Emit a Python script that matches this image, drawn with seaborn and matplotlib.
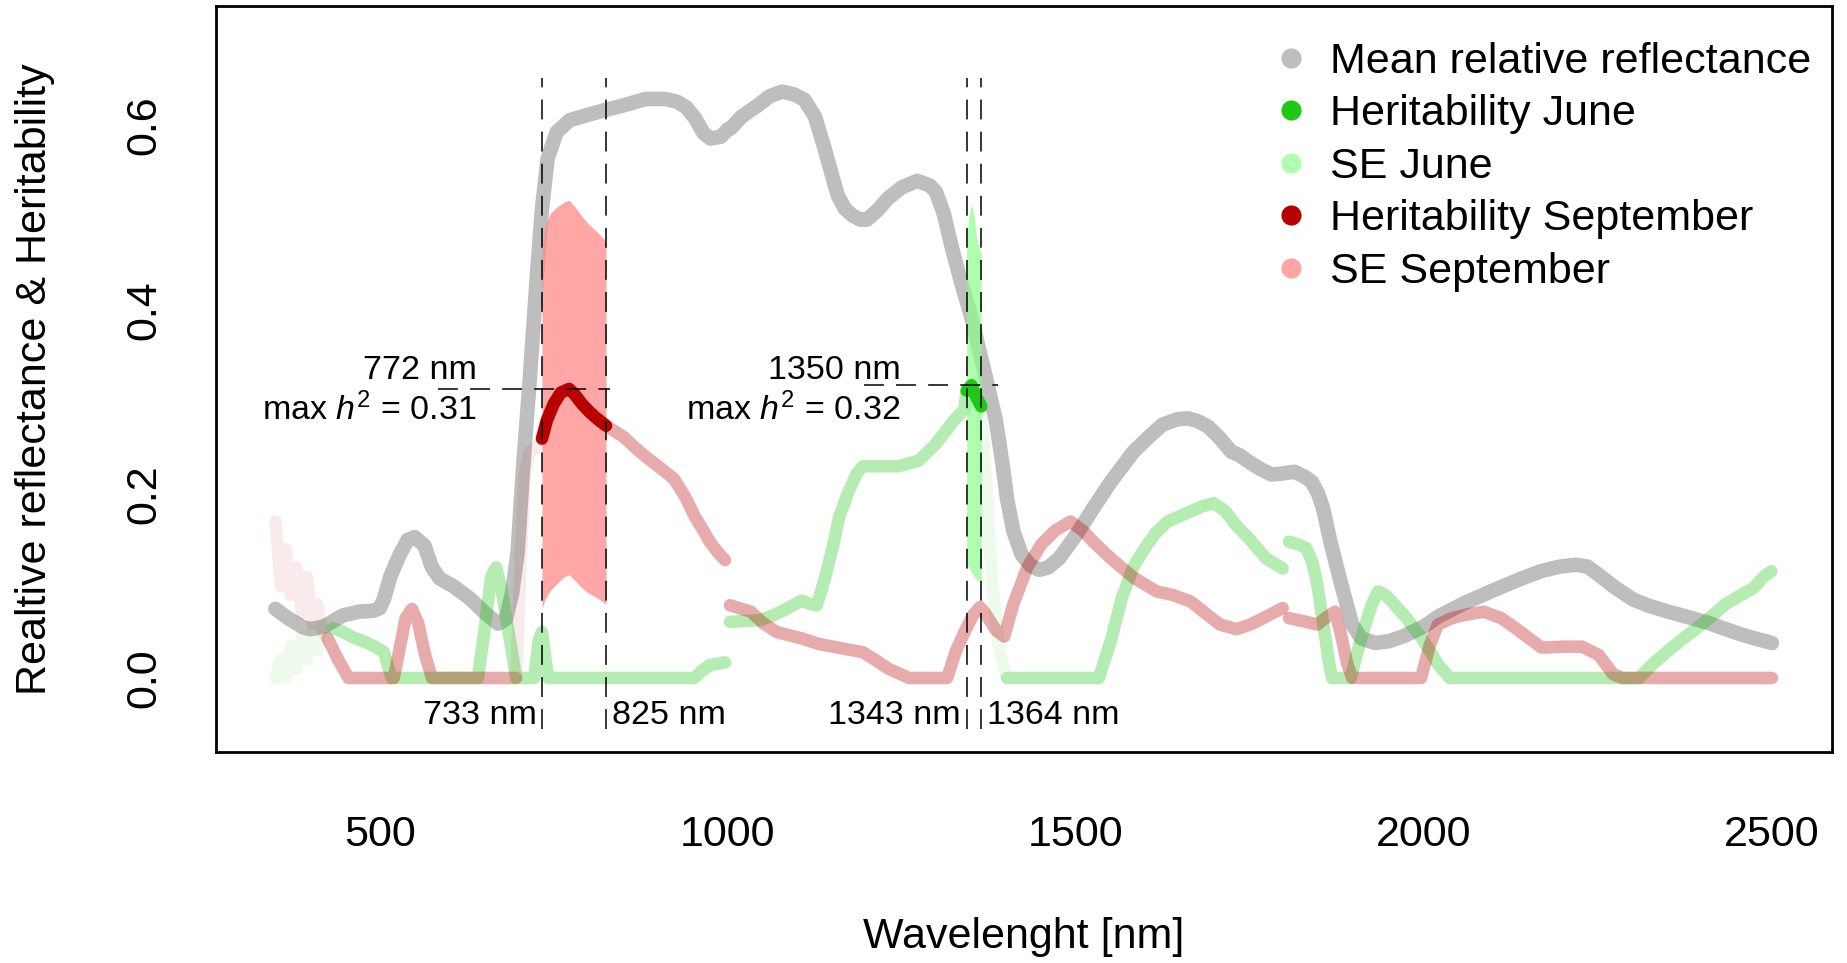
import numpy as np
import pandas as pd
import seaborn as sns
import matplotlib
matplotlib.use("Agg")
import matplotlib.pyplot as plt
from matplotlib.lines import Line2D

nan = np.nan

# ============================================
# DATA
# ============================================

# mean relative reflectance
refl_wl = [350, 370, 390, 400, 420, 447, 470, 491, 500, 506, 515, 528, 540, 550, 564,
           575, 586, 605, 630, 652, 670, 681, 690, 698, 705, 715, 725, 733, 741, 754,
           773, 800, 824, 850, 882, 910, 927, 940, 953, 965, 975, 990, 1000, 1004,
           1020, 1043, 1060, 1078, 1095, 1110, 1125, 1139, 1150, 1158, 1168, 1178,
           1190, 1200, 1215, 1230, 1250, 1272, 1290, 1299, 1310, 1322, 1335, 1349,
           1360, 1372, 1385, 1395, 1401, 1410, 1422, 1435, 1447, 1460, 1476, 1500,
           1525, 1550, 1583, 1605, 1624, 1645, 1661, 1675, 1690, 1705, 1723, 1735,
           1748, 1765, 1781, 1795, 1814, 1830, 1839, 1848, 1855, 1865, 1880, 1897,
           1910, 1930, 1950, 1971, 2000, 2021, 2060, 2102, 2140, 2168, 2195, 2218,
           2235, 2251, 2275, 2301, 2325, 2351, 2380, 2408, 2430, 2457, 2480, 2500]
refl = [0.075, 0.064, 0.055, 0.053, 0.056, 0.068, 0.072, 0.073, 0.076, 0.086, 0.110,
        0.133, 0.150, 0.153, 0.144, 0.120, 0.108, 0.100, 0.086, 0.070, 0.059, 0.064,
        0.092, 0.137, 0.220, 0.320, 0.430, 0.510, 0.564, 0.593, 0.606, 0.612, 0.617,
        0.622, 0.629, 0.629, 0.626, 0.620, 0.608, 0.592, 0.586, 0.588, 0.596, 0.597,
        0.610, 0.622, 0.632, 0.637, 0.634, 0.628, 0.610, 0.575, 0.545, 0.524, 0.510,
        0.503, 0.498, 0.498, 0.508, 0.521, 0.533, 0.540, 0.535, 0.528, 0.505, 0.467,
        0.430, 0.394, 0.360, 0.322, 0.280, 0.230, 0.195, 0.160, 0.134, 0.122, 0.1175,
        0.120, 0.130, 0.155, 0.1845, 0.213, 0.246, 0.262, 0.275, 0.281, 0.282, 0.279,
        0.273, 0.262, 0.246, 0.242, 0.235, 0.227, 0.221, 0.222, 0.224, 0.218, 0.213,
        0.200, 0.1845, 0.150, 0.105, 0.058, 0.043, 0.038, 0.040, 0.0455, 0.056, 0.067,
        0.082, 0.096, 0.108, 0.116, 0.121, 0.123, 0.121, 0.112, 0.098, 0.085, 0.078,
        0.072, 0.066, 0.060, 0.054, 0.047, 0.042, 0.038]

# heritability September (nan = break between detectors)
sep_wl = [350, 358, 365, 372, 380, 388, 395, 403, 410, 418, 425, 440, 455, 520, 528,
          537, 546, 555, 565, 575, 696, 702, 708, 715, 725, 733, 740, 750, 760, 772,
          780, 790, 800, 810, 825, 850, 870, 886, 905, 923, 940, 952, 965, 974, 985,
          996, nan,
          1003, 1020, 1033, 1050, 1070, 1090, 1106, 1130, 1165, 1194, 1215, 1231, 1260,
          1315, 1328, 1340, 1352, 1362, 1370, 1385, 1397, 1410, 1430, 1450, 1470, 1492,
          1510, 1525, 1550, 1583, 1616, 1640, 1665, 1690, 1707, 1731, 1750, 1764, 1797,
          nan,
          1806, 1825, 1847, 1860, 1872, 1880, 1890, 1897, 1996, 2008, 2020, 2040, 2062,
          2086, 2111, 2130, 2144, 2169, 2200, 2227, 2251, 2272, 2285, 2500]
sep_h = [0.170, 0.100, 0.140, 0.090, 0.120, 0.070, 0.110, 0.060, 0.080, 0.050, 0.043,
         0.020, 0.0, 0.0, 0.030, 0.065, 0.075, 0.060, 0.025, 0.0, 0.0, 0.120, 0.220,
         0.245, 0.250, 0.260, 0.280, 0.298, 0.310, 0.314, 0.308, 0.298, 0.290, 0.283,
         0.274, 0.262, 0.248, 0.238, 0.227, 0.216, 0.195, 0.176, 0.160, 0.148, 0.137,
         0.128, nan,
         0.079, 0.075, 0.072, 0.060, 0.050, 0.046, 0.043, 0.037, 0.032, 0.028, 0.018,
         0.010, 0.0, 0.0, 0.030, 0.050, 0.068, 0.077, 0.070, 0.052, 0.045, 0.080, 0.120,
         0.145, 0.160, 0.170, 0.160, 0.148, 0.130, 0.109, 0.094, 0.090, 0.083, 0.068,
         0.058, 0.053, 0.058, 0.063, 0.076, nan,
         0.065, 0.062, 0.058, 0.066, 0.072, 0.050, 0.015, 0.0, 0.0, 0.035, 0.058, 0.065,
         0.069, 0.072, 0.065, 0.055, 0.047, 0.033, 0.034, 0.034, 0.025, 0.004, 0.0, 0.0]

# heritability June
jun_wl = [350, 358, 365, 372, 380, 388, 395, 403, 410, 418, 433, 447, 462, 476, 491,
          506, 512, 517, 641, 650, 660, 667, 674, 685, 696, 722, 728, 733, 738, 742,
          952, 963, 974, 996, nan,
          1003, 1047, 1065, 1084, 1106, 1120, 1128, 1140, 1150, 1160, 1172, 1185, 1194,
          1220, 1245, 1274, 1296, 1315, 1326, 1340, 1343, 1350, 1357, 1364, 1372, 1380,
          1390, 1401, 1533, 1550, 1566, 1582, 1599, 1615, 1632, 1650, 1665, 1680, 1698,
          1715, 1730, 1748, 1773, 1797, nan,
          1806, 1820, 1831, 1840, 1847, 1855, 1864, 1868, 1895, 1903, 1913, 1925, 1934,
          1945, 1954, 1975, 1996, 2010, 2020, 2037, 2309, 2330, 2350, 2371, 2392, 2413,
          2433, 2455, 2474, 2488, 2499]
jun_h = [0.0, 0.020, 0.0, 0.035, 0.010, 0.045, 0.020, 0.050, 0.030, 0.058, 0.054,
         0.050, 0.044, 0.040, 0.035, 0.028, 0.012, 0.0, 0.0, 0.050, 0.110, 0.120, 0.100,
         0.050, 0.0, 0.0, 0.040, 0.050, 0.020, 0.0, 0.0, 0.008, 0.014, 0.017, nan,
         0.061, 0.063, 0.068, 0.075, 0.084, 0.080, 0.079, 0.110, 0.140, 0.175, 0.200,
         0.222, 0.230, 0.230, 0.230, 0.236, 0.252, 0.270, 0.281, 0.292, 0.312, 0.318,
         0.305, 0.295, 0.200, 0.100, 0.030, 0.0, 0.0, 0.040, 0.087, 0.120, 0.141, 0.158,
         0.170, 0.176, 0.181, 0.186, 0.190, 0.181, 0.166, 0.152, 0.130, 0.119, nan,
         0.148, 0.145, 0.141, 0.125, 0.101, 0.060, 0.015, 0.0, 0.0, 0.025, 0.051, 0.080,
         0.094, 0.090, 0.083, 0.065, 0.044, 0.028, 0.015, 0.0, 0.0, 0.016, 0.029, 0.042,
         0.054, 0.067, 0.080, 0.090, 0.098, 0.110, 0.116]

# wavelength ranges where the heritability points are barely visible
sep_faint = [(350, 418), (700, 728)]
jun_faint = [(350, 418), (1366, 1398)]

# SE envelopes inside the significant windows
sep_band_wl = [733, 737, 745, 755, 765, 772, 780, 790, 800, 810, 818, 825]
sep_band_lo = [0.075, 0.085, 0.095, 0.103, 0.110, 0.112, 0.106, 0.098, 0.092, 0.088, 0.084, 0.080]
sep_band_hi = [0.460, 0.490, 0.505, 0.512, 0.517, 0.519, 0.512, 0.502, 0.493, 0.486, 0.480, 0.474]
jun_band_wl = [1343, 1346, 1350, 1354, 1357, 1360, 1364]
jun_band_lo = [0.125, 0.120, 0.115, 0.110, 0.108, 0.105, 0.105]
jun_band_hi = [0.470, 0.500, 0.515, 0.500, 0.480, 0.470, 0.460]

sep_window = [733, 825]
jun_window = [1343, 1364]
sep_peak_wl, sep_peak_h = 772, 0.314
jun_peak_wl, jun_peak_h = 1350, 0.318

legend_labels = ["Mean relative reflectance", "Heritability June", "SE June",
                 "Heritability September", "SE September"]

# colours
GREY = "#BEBEBE"
DARK_GREEN = "#1EC814"
LIGHT_GREEN = "#AEFFAE"
DARK_RED = "#B80000"
PINK = "#FFA5A5"


def to_segments(wl, val, drop=()):
    df = pd.DataFrame({"wl": wl, "val": val})
    for lo, hi in drop:
        df.loc[(df.wl >= lo) & (df.wl <= hi), "val"] = np.nan
    df["seg"] = df["val"].isna().cumsum()
    return df.dropna().reset_index(drop=True)


# ============================================
# PLOT
# ============================================

sns.set_style("white")
plt.rcParams["font.family"] = ["Liberation Sans", "DejaVu Sans"]
plt.rcParams["mathtext.fontset"] = "custom"
plt.rcParams["mathtext.rm"] = "Liberation Sans"
plt.rcParams["mathtext.it"] = "Liberation Sans:italic"
for key in ["text.color", "axes.labelcolor", "xtick.color", "ytick.color"]:
    plt.rcParams[key] = "black"

FS = 31
FS_SMALL = 24.5

fig = plt.figure(figsize=(18.47, 9.63), dpi=100)
ax = fig.add_axes([0.1167, 0.2195, 0.8751, 0.7743])

refl_df = pd.DataFrame({"wl": refl_wl, "val": refl})
sep_all = to_segments(sep_wl, sep_h)
jun_all = to_segments(jun_wl, jun_h)
sep_df = to_segments(sep_wl, sep_h, sep_faint)
jun_df = to_segments(jun_wl, jun_h, jun_faint)

lw = 9

sns.lineplot(data=refl_df, x="wl", y="val", color=GREY, lw=10.5, sort=False,
             solid_capstyle="round", ax=ax, zorder=1)

# full spectra, faded (very faint first, then the normal faded layer on top)
for df, col in [(jun_all, DARK_GREEN), (sep_all, DARK_RED)]:
    sns.lineplot(data=df, x="wl", y="val", units="seg", estimator=None, sort=False,
                 color=col, alpha=0.08, lw=lw, solid_capstyle="round", ax=ax, zorder=2)
for df, col in [(jun_df, DARK_GREEN), (sep_df, DARK_RED)]:
    sns.lineplot(data=df, x="wl", y="val", units="seg", estimator=None, sort=False,
                 color=col, alpha=0.27, lw=lw, solid_capstyle="round", ax=ax, zorder=2)

# SE envelopes
ax.fill_between(sep_band_wl, sep_band_lo, sep_band_hi, color="#FF8A8A", alpha=0.75,
                lw=0, zorder=3)
ax.fill_between(jun_band_wl, jun_band_lo, jun_band_hi, color="#8AFF8A", alpha=0.7,
                lw=0, zorder=3)

# significant windows, full colour
sep_in = sep_all[(sep_all.wl >= sep_window[0]) & (sep_all.wl <= sep_window[1])]
jun_in = jun_all[(jun_all.wl >= jun_window[0]) & (jun_all.wl <= jun_window[1])]
sns.lineplot(data=sep_in, x="wl", y="val", color=DARK_RED, lw=lw, sort=False,
             solid_capstyle="round", ax=ax, zorder=4)
sns.lineplot(data=jun_in, x="wl", y="val", color=DARK_GREEN, lw=lw, sort=False,
             solid_capstyle="round", ax=ax, zorder=4)

# dashed guides
dash = dict(color="black", lw=1.1, linestyle=(0, (13, 8)), zorder=5)
for w in sep_window + jun_window:
    ax.plot([w, w], [-0.055, 0.652], **dash)
ax.plot([584, 831], [sep_peak_h, sep_peak_h], **dash)
ax.plot([1196, 1388], [jun_peak_h, jun_peak_h], **dash)

# window labels
lab_y = -0.041
ax.text(sep_window[0] - 8, lab_y, f"{sep_window[0]} nm", ha="right", va="center", fontsize=FS_SMALL)
ax.text(sep_window[1] + 8, lab_y, f"{sep_window[1]} nm", ha="left", va="center", fontsize=FS_SMALL)
ax.text(jun_window[0] - 8, lab_y, f"{jun_window[0]} nm", ha="right", va="center", fontsize=FS_SMALL)
ax.text(jun_window[1] + 8, lab_y, f"{jun_window[1]} nm", ha="left", va="center", fontsize=FS_SMALL)

# peak labels
for px, pw, ph in [(639, sep_peak_wl, sep_peak_h), (1248, jun_peak_wl, jun_peak_h)]:
    ax.text(px, 0.334, f"{pw} nm", ha="right", va="center", fontsize=FS_SMALL)
    ax.text(px, 0.291, r"max $h^2$ = " + f"{ph:.2f}", ha="right", va="center", fontsize=FS_SMALL)

# axes
ax.set_xlim(264, 2586)
ax.set_ylim(-0.08, 0.73)
ax.set_xticks([500, 1000, 1500, 2000, 2500])
ax.set_yticks([0.0, 0.2, 0.4, 0.6])
ax.set_yticklabels(["0.0", "0.2", "0.4", "0.6"])
ax.tick_params(axis="both", length=19.5, width=1.5, color="black", labelsize=FS,
               labelcolor="black", direction="out")
ax.tick_params(axis="x", pad=26)
ax.tick_params(axis="y", pad=17, labelrotation=90)
for t in ax.get_yticklabels():
    t.set_va("center")
for s in ax.spines.values():
    s.set_visible(True)
    s.set_color("black")
    s.set_linewidth(2)

ax.set_xlabel("Wavelenght [nm]", fontsize=FS, color="black")
ax.set_ylabel("Realtive reflectance & Heritability", fontsize=FS, color="black")
ax.xaxis.set_label_coords(0.5, -0.248)
ax.xaxis.label.set_va("center")
ax.yaxis.set_label_coords(-0.112, 0.5)
ax.yaxis.label.set_va("center")

handles = [Line2D([], [], ls="none", marker="o", ms=14.5, mec="none", mfc=c)
           for c in [GREY, DARK_GREEN, LIGHT_GREEN, DARK_RED, PINK]]
leg = ax.legend(handles, legend_labels, loc="upper left", bbox_to_anchor=(0.6547, 0.952),
                frameon=False, fontsize=FS, handlelength=0.8, handletextpad=0.5,
                labelspacing=0.29, borderpad=0, borderaxespad=0)
for t in leg.get_texts():
    t.set_color("black")

fig.savefig("out.png", dpi=100)
